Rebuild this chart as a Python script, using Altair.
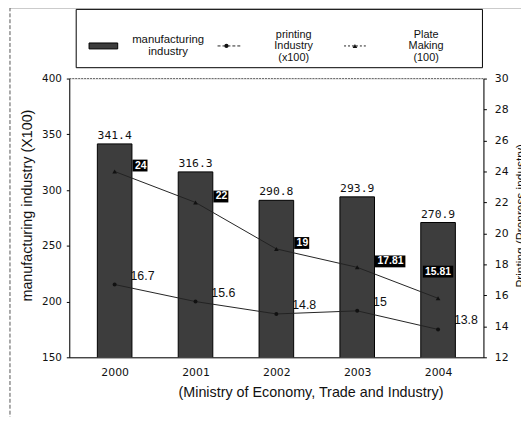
import altair as alt
import pandas as pd

years = [2000, 2001, 2002, 2003, 2004]
manufacturing = [341.4, 316.3, 290.8, 293.9, 270.9]
printing = [16.7, 15.6, 14.8, 15.0, 13.8]
plate = [24, 22, 19, 17.81, 15.81]
printing_labels = ["16.7", "15.6", "14.8", "15", "13.8"]
plate_labels = ["24", "22", "19", "17.81", "15.81"]

df = pd.DataFrame({
    "year": years,
    "manufacturing": manufacturing,
    "printing": printing,
    "plate": plate,
    "plabel": printing_labels,
    "tlabel": plate_labels,
})

W, H = 419, 282
SANS = "Liberation Sans"
NUM = "DejaVu Sans"

X = alt.X("year:Q",
          scale=alt.Scale(domain=[1999.5, 2004.5], nice=False, zero=False),
          axis=alt.Axis(values=years, format="d", title="(Ministry of Economy, Trade and Industry)",
                        ticks=False, labelPadding=9, labelFont=NUM, labelFontSize=11,
                        labelColor="#111", domainColor="#000", grid=False,
                        titleFont=SANS, titleFontSize=14.5, titleFontWeight="normal",
                        titleColor="#111", titleX=244, titleY=36, titleBaseline="middle"))

YL = alt.Y("manufacturing:Q",
           scale=alt.Scale(domain=[150, 400], nice=False, zero=False),
           axis=alt.Axis(orient="left", values=[150, 200, 250, 300, 350, 400], grid=False,
                         tickSize=3, labelPadding=5, labelFont=NUM, labelFontSize=10.5,
                         labelColor="#111", domainColor="#000", tickColor="#000",
                         title="manufacturing industry  (X100)", titleFont=SANS,
                         titleFontSize=14.5, titleFontWeight="normal", titleColor="#111",
                         titleX=-38, titleY=128, titleAngle=270, titleAlign="center",
                         titleBaseline="alphabetic"))

right_scale = alt.Scale(domain=[12, 30], nice=False, zero=False)
right_axis = alt.Axis(orient="right", values=list(range(12, 31, 2)), grid=False,
                      tickSize=3, labelPadding=8, labelFont=NUM, labelFontSize=11,
                      labelColor="#111", domainColor="#000", tickColor="#000",
                      title="Printing (Prepress industry)", titleFont=SANS,
                      titleFontSize=12, titleFontWeight="normal", titleColor="#111",
                      titleAngle=270, titleAlign="left", titleBaseline="alphabetic",
                      titleX=42, titleY=211)

base = alt.Chart(df)

# printing labels (drawn under the bars)
print_labels = base.mark_text(align="left", baseline="middle", dx=16, dy=-9,
                              font=SANS, fontSize=12.5, color="#111").encode(
    x=X,
    y=alt.Y("printing:Q", scale=right_scale, axis=None),
    text="plabel:N",
)

bars = base.mark_bar(size=35, color="#3d3d3d", stroke="#000", strokeWidth=1, clip=True).encode(x=X, y=YL)
bar_text = base.mark_text(baseline="bottom", dy=-3, font="DejaVu Sans Mono",
                          fontSize=11.5, color="#111").encode(
    x=X, y=YL, text=alt.Text("manufacturing:Q", format=".1f"))

one = alt.Data(values=[{"k": 1}])

def rule(x, x2, y, y2, color="#000", width=1, dash=None):
    kw = dict(color=color, strokeWidth=width)
    if dash:
        kw["strokeDash"] = dash
    return alt.Chart(one).mark_rule(**kw).encode(
        x=alt.value(x), x2=alt.value(x2), y=alt.value(y), y2=alt.value(y2))

def label(x, y, txt, size=11, lh=11.5):
    return alt.Chart(one).mark_text(lineBreak="\n", font=SANS, fontSize=size, color="#111",
                                    lineHeight=lh, baseline="middle", align="center").encode(
        x=alt.value(x), y=alt.value(y), text=alt.value(txt))

frame_top = rule(0, W, 0, 0, color="#666", dash=[2, 1])
outer_top = rule(-60, 460, -72, -72, color="#333", width=1.5)
outer_left = rule(-60, -60, -72, 345, color="#555", dash=[4, 2])

legend_box = alt.Chart(one).mark_rect(fill="white", stroke="#000", strokeWidth=1).encode(
    x=alt.value(7), x2=alt.value(418), y=alt.value(-70), y2=alt.value(-11))
legend_swatch = alt.Chart(one).mark_rect(fill="#3d3d3d", stroke="#000").encode(
    x=alt.value(20), x2=alt.value(49), y=alt.value(-36), y2=alt.value(-30))
leg1 = label(100, -39, "manufacturing\nindustry", 11.5, 12.5)
leg_line2 = rule(150, 173, -33, -33, color="#222", dash=[3, 2])
leg_pt2 = alt.Chart(one).mark_point(shape="circle", filled=True, size=18, color="#111", opacity=1).encode(
    x=alt.value(159), y=alt.value(-33))
leg2 = label(227, -44, "printing\nIndustry\n(x100)", 11)
leg_line3 = rule(278, 300, -33, -33, color="#222", dash=[2, 2])
leg_pt3 = alt.Chart(one).mark_point(shape="triangle-up", filled=True, size=22, color="#111", opacity=1).encode(
    x=alt.value(289), y=alt.value(-33))
leg3 = label(361, -44, "Plate\nMaking\n(100)", 11)

left_group = alt.layer(bars, bar_text, frame_top, outer_top, outer_left, legend_box,
                       legend_swatch, leg1, leg_line2, leg_pt2, leg2, leg_line3, leg_pt3, leg3)

YP = alt.Y("plate:Q", scale=right_scale, axis=right_axis)
YR = alt.Y("printing:Q", scale=right_scale, axis=right_axis)

plate_line = base.mark_line(color="#222", strokeWidth=1).encode(x=X, y=YP)
plate_pts = base.mark_point(shape="triangle-up", filled=True, size=22, color="#111", opacity=1).encode(x=X, y=YP)
print_line = base.mark_line(color="#222", strokeWidth=1).encode(x=X, y=YR)
print_pts = base.mark_point(shape="circle", filled=True, size=16, color="#111", opacity=1).encode(x=X, y=YR)

boxA = base.transform_filter("datum.year < 2004").transform_calculate(
    bw="(length(datum.tlabel) * 5.3 + 5) / 83.8",
    bx2="datum.year + datum.bw",
).mark_rect(color="#000", xOffset=18, x2Offset=18, yOffset=-12, y2Offset=0).encode(
    x=X, x2="bx2:Q", y=YP, y2="plate:Q")
textA = base.transform_filter("datum.year < 2004").mark_text(
    align="left", baseline="middle", dx=20.5, dy=-6, font=SANS, fontSize=10.5,
    fontWeight="bold", color="white").encode(x=X, y=YP, text="tlabel:N")

boxB = base.transform_filter("datum.year == 2004").transform_calculate(
    bw="(length(datum.tlabel) * 5.3 + 5) / 83.8",
    bx1="datum.year - datum.bw / 2",
    bx2="datum.year + datum.bw / 2",
).mark_rect(color="#000", yOffset=-33, y2Offset=-21).encode(
    x=alt.X("bx1:Q", scale=alt.Scale(domain=[1999.5, 2004.5], nice=False, zero=False)),
    x2="bx2:Q", y=YP, y2="plate:Q")
textB = base.transform_filter("datum.year == 2004").mark_text(
    align="center", baseline="middle", dy=-27, font=SANS, fontSize=10.5,
    fontWeight="bold", color="white").encode(x=X, y=YP, text="tlabel:N")

right_group = alt.layer(plate_line, print_line, plate_pts, print_pts, boxA, textA, boxB, textB)

chart = alt.layer(print_labels, left_group, right_group).resolve_scale(y="independent").properties(
    width=W, height=H,
    autosize=alt.AutoSizeParams(type="none"),
    padding={"left": 62, "top": 69, "right": 38, "bottom": 58},
).configure_view(stroke=None).configure(background="white")

chart.save("out.html", embed_options={"renderer": "svg", "actions": False})
